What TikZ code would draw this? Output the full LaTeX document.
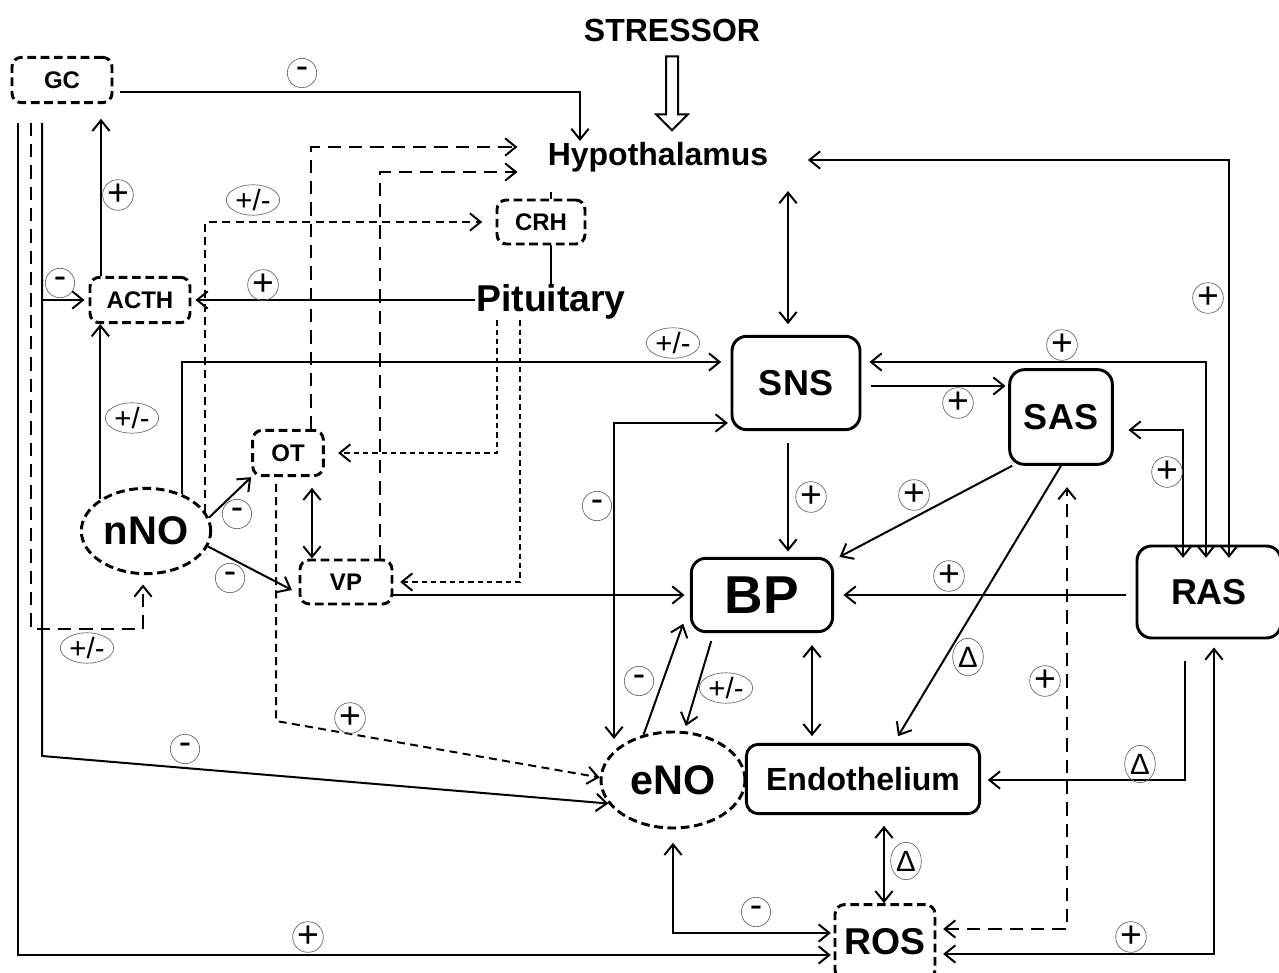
\documentclass[tikz,border=0pt]{standalone}
\usepackage{fontspec}
\setmainfont{Liberation Sans}
\usetikzlibrary{arrows.meta,shapes.geometric}

\begin{document}
\begin{tikzpicture}[x=0.75pt, y=-0.75pt]
        \tikzset{
            >={Straight Barb[length=8pt,width=13pt]},
            every path/.style = {line width=1.5pt},
            dl/.style = {dash pattern=on 10pt off 6pt},
            dm/.style = {dash pattern=on 6pt off 4pt},
            ds/.style = {dash pattern=on 4pt off 3pt},
            hbox/.style = {draw, line width=2.2pt, dash pattern=on 6.5pt off 3.5pt, rounded corners=7pt, font=\bfseries\fontsize{18}{18}\selectfont},
            sbox/.style = {draw, line width=2.2pt, rounded corners=11pt, font=\bfseries\fontsize{27}{27}\selectfont},
            nobox/.style = {draw, ellipse, inner sep=0pt, line width=2.2pt, dash pattern=on 6.5pt off 3.5pt, font=\bfseries\fontsize{30}{30}\selectfont},
            lbl/.style = {inner sep=0pt, font=\bfseries\fontsize{24}{24}\selectfont},
            sg/.style = {draw=black!60, line width=0.5pt, circle, minimum size=22pt, inner sep=0pt, font=\fontsize{28}{28}\selectfont},
            sgpm/.style = {draw=black!60, line width=0.5pt, ellipse, minimum width=40pt, minimum height=21pt, inner sep=0pt, font=\fontsize{22}{22}\selectfont},
            sgd/.style = {draw=black!60, line width=0.5pt, ellipse, minimum width=23pt, minimum height=28pt, inner sep=0pt, font=\fontsize{22}{22}\selectfont}
        }

        \path[use as bounding box, fill=white] (0,0) rectangle (1279,973);

        \node[lbl] (stress) at (672,30) {STRESSOR};
        \node[lbl, text height=18pt, text depth=6pt] (hyp) at (658,158) {Hypothalamus};
        \node[lbl, font=\bfseries\fontsize{28}{28}\selectfont, text height=20pt, text depth=6pt] (pit) at (551,302) {Pituitary};

        \node[hbox, minimum width=75pt, minimum height=34pt] (gc) at (62,80) {GC};
        \node[hbox, minimum width=75pt, minimum height=34pt] (acth) at (140,300) {ACTH};
        \node[hbox, minimum width=66pt, minimum height=33pt] (crh) at (541,222) {CRH};
        \node[hbox, minimum width=53pt, minimum height=34pt] (ot) at (288,453) {OT};
        \node[hbox, minimum width=69pt, minimum height=33pt] (vp) at (346,582) {VP};
        \node[nobox, minimum width=97pt, minimum height=64pt] (nno) at (146,531) {nNO};

        \node[sbox, minimum width=96pt, minimum height=70pt] (sns) at (796,383) {SNS};
        \node[sbox, minimum width=77pt, minimum height=71pt] (sas) at (1061,417) {SAS};
        \node[sbox, minimum width=106pt, minimum height=55pt, font=\bfseries\fontsize{40}{40}\selectfont] (bp) at (762,595) {BP};
        \node[sbox, minimum width=108pt, minimum height=69pt] (ras) at (1209,592) {RAS};
        \node[nobox, minimum width=108pt, minimum height=72pt, font=\bfseries\fontsize{31}{31}\selectfont] (eno) at (673,780) {eNO};
        \node[sbox, minimum width=175pt, minimum height=52pt, rounded corners=9pt, font=\bfseries\fontsize{24}{24}\selectfont] (endo) at (863,779) {Endothelium};
        \node[hbox, minimum width=75pt, minimum height=56pt, font=\bfseries\fontsize{28}{28}\selectfont] (ros) at (885,942) {ROS};

        % hollow stressor arrow
        \draw[line join=miter] (stress.south) ++(-6,14) -- ++(0,58) -- ++(-10,0) -- ++(16,16) -- ++(16,-16) -- ++(-10,0) -- ++(0,-58) -- cycle;

        \draw[->] ([xshift=5pt]gc.east |- 0,92) -| (hyp.north -| 580,0);
        \draw[->] (acth.north -| 101,0) -- ([yshift=-11pt]gc.south -| 101,0);
        \draw[->] (pit.west |- acth.east) -- ([xshift=3pt]acth.east);
        \draw (pit.north) -- (pit.north |- crh.south);
        \draw (pit.north |- crh.north) -- ++(0,-7);

        \draw[->, dm] (nno.18) |- ([xshift=-10pt]crh.west);
        \draw[->, dl] (ot.north -| 311,0) |- ([xshift=-22pt]hyp.west |- 0,147);
        \draw[->, dl] (vp.north -| 380,0) |- ([xshift=-22pt]hyp.west |- 0,172);
        \draw[->, ds] (pit.south -| 497,0) |- ([xshift=10pt]ot.east);
        \draw[->, ds] (pit.south -| 520,0) |- ([xshift=5pt]vp.east);
        \draw[<->] ([yshift=-8pt]ot.south -| 312,0) -- (vp.north -| 312,0);

        \draw[->] (nno.12) -- (ot.south west);
        \draw[->] (nno.-14) -- ([xshift=-5pt,yshift=-6pt]vp.west);
        \draw[->] (nno.145) -- (nno.145 |- acth.south);
        \draw[->] (nno.46) |- ([xshift=-7pt]sns.west |- 0,362);

        \draw[->] ([yshift=-14pt]gc.south -| 42,0) |- ([xshift=-3pt]acth.west);
        \draw[->] ([yshift=-14pt]gc.south -| 42,0) -- (42,756) -- (eno.200);
        \draw[->] ([yshift=-14pt]gc.south -| 18,0) |- ([xshift=-2pt]ros.west |- 0,955);
        \draw[->, dl] ([yshift=-14pt]gc.south -| 31,0) |- (143,629) -- ([yshift=-7pt]nno.south -| 143,0);
        \draw[->, dm] ([yshift=-5pt]ot.south -| 276,0) -- (276,721) -- (eno.178);

        \draw[->] (vp.east |- bp.west) -- ([xshift=-4pt]bp.west);
        \draw[<->] ([yshift=-12pt]hyp.south -| 788,0) -- ([yshift=8pt]sns.north -| 788,0);
        \draw[<->] ([yshift=-10pt]ras.north -| 1229,0) |- ([xshift=29pt]hyp.east |- 0,160);
        \draw[<->] ([yshift=-10pt]ras.north -| 1206,0) |- ([xshift=6pt]sns.east |- 0,362);
        \draw[<->] ([yshift=-10pt]ras.north -| 1183,0) |- ([xshift=11pt]sas.east |- 0,430);
        \draw[->] ([xshift=7pt]sns.east |- 0,386) -- ([xshift=-2pt]sas.west |- 0,386);
        \draw[->] ([yshift=-9pt]sns.south -| 788,0) -- ([yshift=4pt]bp.north -| 788,0);
        \draw[->] (sas.-135) -- ([xshift=4pt]bp.north east);
        \draw[->] (sas.south) -- ([yshift=5pt]endo.north -| 898,0);
        \draw[->] ([xshift=-7pt]ras.west |- bp.east) -- ([xshift=7pt]bp.east);

        \draw[<->] ([xshift=-2pt]sns.west |- 0,423) -| (eno.135 -| 614,0);
        \draw[->] (eno.123) -- ([xshift=-5pt,yshift=7pt]bp.south west);
        \draw[->, shorten >=4pt] ([xshift=16pt,yshift=-6pt]bp.south west) -- (eno.77);
        \draw[<->] ([yshift=-9pt]bp.south -| 812,0) -- ([yshift=5pt]endo.north -| 812,0);
        \draw[<->] ([yshift=-8pt]endo.south -| 884,0) -- (ros.north -| 884,0);
        \draw[->] ([yshift=-16pt]ras.south -| 1185,0) |- ([xshift=5pt]endo.east |- 0,780);
        \draw[<->] ([xshift=5pt]ros.east |- 0,954) -| ([yshift=-6pt]ras.south -| 1214,0);
        \draw[<->, dl] ([xshift=5pt]ros.east |- 0,929) -| ([yshift=-16pt]sas.south -| 1067,0);
        \draw[<->] ([yshift=-10pt]eno.south) |- ([xshift=-2pt]ros.west |- 0,933);

        \node[sg] (p1) at (118,195) {+};
        \node[sg] (p2) at (263,285) {+};
        \node[sg] (p3) at (1208,298) {+};
        \node[sg] (p4) at (1062,345) {+};
        \node[sg] (p5) at (958,403) {+};
        \node[sg] (p6) at (811,497) {+};
        \node[sg] (p7) at (914,495) {+};
        \node[sg] (p8) at (1167,472) {+};
        \node[sg] (p9) at (949,576) {+};
        \node[sg] (p10) at (1045,681) {+};
        \node[sg] (p11) at (350,718) {+};
        \node[sg] (p12) at (308,937) {+};
        \node[sg] (p13) at (1131,937) {+};

        \node[sg] (m1) at (302,73) {-};
        \node[sg] (m2) at (60,283) {-};
        \node[sg] (m3) at (237,514) {-};
        \node[sg] (m4) at (230,578) {-};
        \node[sg] (m5) at (597,506) {-};
        \node[sg] (m6) at (639,681) {-};
        \node[sg] (m7) at (185,749) {-};
        \node[sg] (m8) at (756,912) {-};

        \node[sgpm] (pm1) at (253,200) {+/-};
        \node[sgpm] (pm2) at (132,418) {+/-};
        \node[sgpm] (pm3) at (673,343) {+/-};
        \node[sgpm] (pm4) at (87,648) {+/-};
        \node[sgpm] (pm5) at (726,688) {+/-};

        \node[sgd] (d1) at (968,657) {Δ};
        \node[sgd] (d2) at (1140,764) {Δ};
        \node[sgd] (d3) at (906,861) {Δ};

    \end{tikzpicture}
\end{document}
